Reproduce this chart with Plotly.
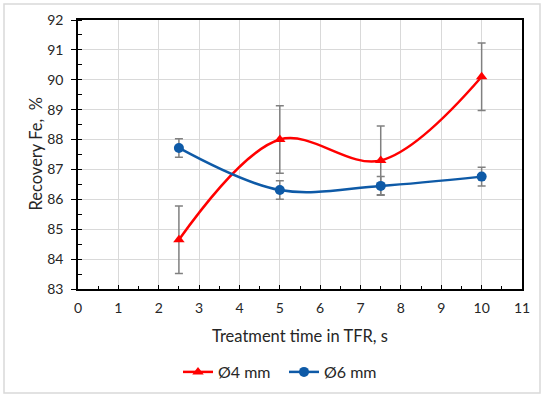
import plotly.graph_objects as go

time_s = [2.5, 5, 7.5, 10]
rec_4mm = [84.65, 88.0, 87.3, 90.1]
err_4mm = [1.13, 1.13, 1.15, 1.13]
rec_6mm = [87.72, 86.31, 86.45, 86.76]
err_6mm = [0.31, 0.31, 0.31, 0.31]

RED = "#FF0000"
BLUE = "#0E5AA7"
FONT = "Lato"

fig = go.Figure()
fig.add_trace(go.Scatter(
    x=time_s, y=rec_4mm, name="Ø4 mm", mode="lines+markers",
    line=dict(color=RED, width=2.5, shape="spline", smoothing=1.0),
    marker=dict(symbol="triangle-up", size=10, color=RED),
    error_y=dict(type="data", array=err_4mm, color="#808080", thickness=1.5, width=4),
))
fig.add_trace(go.Scatter(
    x=time_s, y=rec_6mm, name="Ø6 mm", mode="lines+markers",
    line=dict(color=BLUE, width=2.5, shape="spline", smoothing=1.0),
    marker=dict(symbol="circle", size=10, color=BLUE),
    error_y=dict(type="data", array=err_6mm, color="#808080", thickness=1.5, width=4),
))

W, H = 550, 397
L, R, T, B = 78, 28, 20, 108
pw, ph = W - L - R, H - T - B

def px_x(p):
    return (p - L) / pw

def px_y(p):
    return 1 - (p - T) / ph

fig.update_layout(
    width=W, height=H,
    margin=dict(l=L, r=R, t=T, b=B, autoexpand=False),
    paper_bgcolor="white", plot_bgcolor="white",
    font=dict(family=FONT, size=14, color="#262626"),
    showlegend=True,
    legend=dict(orientation="h", x=px_x(178), xanchor="left", y=px_y(372), yanchor="middle",
                font=dict(size=16, color="#262626"), traceorder="normal",
                entrywidth=61, entrywidthmode="pixels"),
    xaxis=dict(range=[0, 11], dtick=1, tick0=0, showgrid=True, gridcolor="#d9d9d9", gridwidth=1,
               showline=True, linecolor="black", linewidth=1.5, mirror=True,
               ticks="inside", ticklen=4, tickcolor="black", automargin=False,
               ticklabelstandoff=5,
               minor=dict(ticks="inside", dtick=0.5, ticklen=3, tickcolor="black", showgrid=False),
               zeroline=False, tickfont=dict(size=14)),
    yaxis=dict(range=[83, 92], dtick=1, tick0=83, showgrid=True, gridcolor="#d9d9d9", gridwidth=1,
               showline=True, linecolor="black", linewidth=1.5, mirror=True,
               ticks="outside", ticklen=5, tickcolor="black", automargin=False,
               ticklabelstandoff=5,
               minor=dict(ticks="inside", dtick=0.5, ticklen=4, tickcolor="black", showgrid=False),
               zeroline=False, tickfont=dict(size=14)),
    annotations=[
        dict(text="Treatment time in TFR, s", xref="paper", yref="paper",
             x=0.5, y=px_y(336), xanchor="center", yanchor="middle", showarrow=False,
             font=dict(size=16.5, color="#262626")),
        dict(text="Recovery Fe,  %", xref="paper", yref="paper", textangle=-90,
             x=px_x(35), y=0.5, xanchor="center", yanchor="middle", showarrow=False,
             font=dict(size=16.5, color="#262626")),
    ],
    shapes=[dict(type="rect", xref="paper", yref="paper",
                 x0=px_x(4), x1=px_x(540), y0=px_y(393), y1=px_y(4),
                 line=dict(color="#d9d9d9", width=1.5), layer="below")],
)

fig.write_html("out.html", config={"displayModeBar": False},
               post_script="document.body.style.margin='0';document.body.style.overflow='hidden';")
